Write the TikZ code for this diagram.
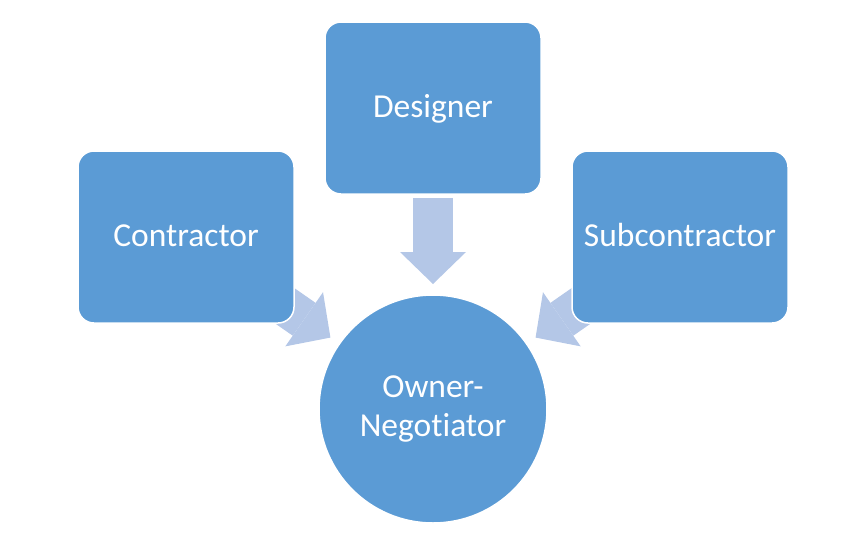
\documentclass[tikz,border=0pt]{standalone}
\usepackage{fontspec}
\setmainfont{Carlito}[Ligatures=NoCommon]
\usepackage{tikz}
\usetikzlibrary{arrows.meta, calc, backgrounds}
\definecolor{boxblue}{HTML}{5B9BD5}
\definecolor{arrowblue}{HTML}{B4C7E7}

\begin{document}
\begin{tikzpicture}[x=1pt, y=-1pt,
  party/.style={rectangle, rounded corners=16pt, fill=boxblue, draw=white, line width=1.5pt,
    minimum width=216pt, minimum height=172pt, inner sep=0pt, text=white,
    font=\fontsize{33.5}{39}\selectfont, text height=19pt, text depth=0pt},
  hub/.style={circle, fill=boxblue, draw=white, line width=1.5pt, minimum size=228pt,
    inner sep=0pt, text=white, font=\fontsize{33.5}{39}\selectfont, align=center},
  flow/.style={arrowblue, line width=40pt, -{Triangle[length=32pt, width=66pt, line width=0pt]}}]
  \useasboundingbox (0,0) rectangle (860,547);
  \node[hub] (owner) at (433,409) {Owner-\\Negotiator};
  \node[party] (designer) at (433,108) {Designer};
  \node[party] (contractor) at (186,237) {Contractor};
  \node[party] (subcontractor) at (680,237) {Subcontractor};
  % arrow tips stop short of the circle
  \coordinate (dtip) at ($(owner.center)!125pt!(designer.center)$);
  \coordinate (ctip) at ($(owner.center)!125pt!(contractor.center)$);
  \coordinate (stip) at ($(owner.center)!125pt!(subcontractor.center)$);
  \begin{pgfonlayer}{background}
    \draw[flow] ($(designer.south)+(0,3)$) -- (dtip);
    \draw[flow] (contractor.center) -- (ctip);
    \draw[flow] (subcontractor.center) -- (stip);
  \end{pgfonlayer}
\end{tikzpicture}
\end{document}
